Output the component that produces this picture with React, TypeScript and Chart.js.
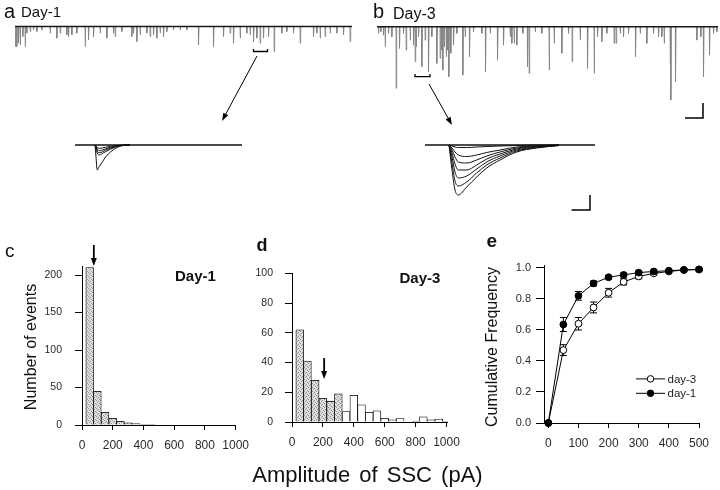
import React, { useEffect, useRef } from "react";
import { Chart, registerables } from "chart.js";

Chart.register(...registerables);

const FONT = "'Liberation Sans', Arial, Helvetica, sans-serif";

// ---------- Panel a / b : continuous recordings (time s, amplitude pA) ----------
const traceATimes = [0, 0.33, 0.67, 1.0, 1.53, 2.0, 2.33, 3.0, 3.67, 4.33, 5.33, 7.0, 8.33, 9.0, 10.33, 10.67, 11.33, 12.33, 14.0, 14.67, 15.67, 17.0, 18.33, 19.67, 20.0, 21.33, 23.33, 23.67, 24.33, 25.0, 26.33, 27.0, 27.67, 28.33, 29.0, 29.67, 30.33, 31.67, 33.0, 34.33, 36.67, 39.67, 41.67, 43.0, 43.67, 45.0, 46.33, 47.0, 47.67, 48.33, 49.0, 49.67, 50.67, 51.8, 53.33, 54.33, 55.67, 57.0, 59.67, 60.33, 61.0, 62.0, 63.0, 64.33, 65.67, 67.0];
const traceAAmps = [100, 100, 83, 92, 50, 100, 33, 25, 17, 25, 17, 33, 58, 33, 42, 50, 42, 33, 100, 67, 50, 33, 58, 33, 50, 25, 50, 33, 75, 42, 33, 50, 42, 58, 33, 50, 25, 17, 17, 17, 92, 100, 50, 33, 83, 58, 33, 42, 75, 58, 83, 58, 50, 125, 33, 25, 33, 83, 50, 33, 58, 50, 33, 33, 42, 75];

const traceBTimes = [0.27, 0.73, 1.27, 1.6, 2.27, 2.93, 3.8, 4.47, 5.27, 5.8, 6.6, 7.27, 7.6, 7.8, 8.27, 8.93, 9.6, 10.27, 10.93, 11.93, 12.6, 12.93, 13.13, 13.4, 13.8, 14.07, 14.33, 14.73, 15.27, 15.93, 17.13, 17.6, 18.47, 19.27, 20.93, 21.67, 22.6, 24.07, 25.27, 26.6, 26.93, 27.4, 27.93, 29.13, 30.07, 30.4, 31.6, 32.93, 34.4, 35.4, 36.93, 38.27, 39.0, 40.6, 42.07, 43.4, 44.07, 44.93, 45.93, 47.4, 47.8, 48.6, 49.27, 50.27, 51.67, 52.6, 53.93, 55.27, 56.27, 56.93, 57.4, 58.6, 58.73, 59.67, 63.93, 64.73, 65.27, 66.47, 67.27, 67.93];
const traceBAmps = [33, 25, 42, 100, 33, 50, 308, 108, 33, 117, 67, 92, 175, 100, 50, 200, 67, 225, 50, 183, 158, 117, 217, 100, 150, 117, 250, 133, 92, 33, 242, 50, 150, 25, 33, 225, 33, 167, 92, 50, 83, 83, 92, 33, 200, 233, 25, 33, 217, 83, 133, 33, 175, 67, 208, 233, 50, 75, 33, 83, 83, 33, 50, 33, 150, 33, 83, 33, 50, 50, 83, 192, 367, 275, 67, 50, 250, 142, 33, 25];

// ---------- Insets: superimposed single events (ms after onset, pA) ----------
const insetATimes = [0, 0.5, 1.1, 2.1, 3.75, 5.4, 7.9, 10.4, 12.9, 17.5];
const insetAWave1 = [0, -12, -25, -21.7, -16.7, -11.7, -6.7, -3.3, -1, 0];
const insetAWave2 = [0, -3, -8, -10, -8.5, -6.5, -4, -2, -0.7, 0];
const insetAWave3 = [0, -2, -6, -7.7, -6.8, -5, -3, -1.5, -0.5, 0];
const insetAWave4 = [0, -1.5, -4, -5.7, -5, -3.8, -2.2, -1, -0.3, 0];
const insetAWave5 = [0, -1, -2.5, -3.3, -3, -2.2, -1.3, -0.6, -0.2, 0];

const insetBTimes = [0, 1.5, 3, 4.65, 8.85, 13.85, 18.85, 25.5, 33.85, 43.85, 55];
const insetBWave1 = [0, -25, -45, -50, -42, -32, -23, -15, -7, -3, -0.5];
const insetBWave2 = [0, -18, -36, -41, -37, -28, -20, -13, -6, -2.5, -0.5];
const insetBWave3 = [0, -12, -27, -33, -31, -24, -17, -11, -5, -2, -0.3];
const insetBWave4 = [0, -8, -19, -25, -25, -20, -14, -9, -4, -1.5, -0.3];
const insetBWave5 = [0, -5, -12, -17, -18, -15, -11, -7, -3, -1, 0];
const insetBWave6 = [0, -3, -7, -10, -11.5, -10, -7.5, -5, -2, -0.8, 0];
const insetBWave7 = [0, -1, -2, -2.5, -2.5, -2, -1.5, -1, -0.5, 0, 0];

// ---------- Panels c / d : amplitude histograms ----------
const binCenters = [50, 100, 150, 200, 250, 300, 350, 400, 450, 500, 550, 600, 650, 700, 750, 800, 850, 900, 950, 1000];
const countsDay1 = [210, 45, 17, 9, 5, 3, 2, 1, 1, 0, 0, 0, 0, 0, 0, 0, 0, 0, 0, 0];
const countsDay3 = [62, 41, 28, 16, 14, 19, 7, 18, 11.5, 6.5, 7.5, 2.5, 1.5, 2.3, 0, 0.6, 3.5, 1.5, 2, 0.5];
const histXTicks = [0, 200, 400, 600, 800, 1000];
const day1YTicks = [0, 50, 100, 150, 200];
const day3YTicks = [0, 20, 40, 60, 80, 100];

// ---------- Panel e : cumulative frequency ----------
const cumX = [0, 50, 100, 150, 200, 250, 300, 350, 400, 450, 500];
const cumDay3 = [0, 0.47, 0.64, 0.745, 0.84, 0.91, 0.945, 0.965, 0.977, 0.987, 0.99];
const cumDay3Err = [0, 0.035, 0.04, 0.035, 0.028, 0.02, 0.015, 0.01, 0.008, 0.006, 0.005];
const cumDay1 = [0, 0.635, 0.82, 0.9, 0.94, 0.955, 0.97, 0.977, 0.982, 0.987, 0.99];
const cumDay1Err = [0, 0.045, 0.028, 0.016, 0.012, 0.012, 0.01, 0.008, 0.006, 0.005, 0.004];
const cumXTicks = [0, 100, 200, 300, 400, 500];
const cumYTicks = [0, 0.2, 0.4, 0.6, 0.8, 1.0];

// ---------------------------------------------------------------------------
const baseOptions: any = {
  animation: false,
  responsive: false,
  maintainAspectRatio: false,
  events: [],
  plugins: { legend: { display: false }, tooltip: { enabled: false } },
};

function bracketPlugin(t1: number, t2: number, yBottom: number, yTop: number) {
  return {
    id: "bracket",
    afterDatasetsDraw(chart: any) {
      const { x, y } = chart.scales;
      const ctx = chart.ctx;
      ctx.save();
      ctx.strokeStyle = "#000";
      ctx.lineWidth = 1.3;
      ctx.beginPath();
      ctx.moveTo(x.getPixelForValue(t1), y.getPixelForValue(yTop));
      ctx.lineTo(x.getPixelForValue(t1), y.getPixelForValue(yBottom));
      ctx.lineTo(x.getPixelForValue(t2), y.getPixelForValue(yBottom));
      ctx.lineTo(x.getPixelForValue(t2), y.getPixelForValue(yTop));
      ctx.stroke();
      ctx.restore();
    },
  };
}

function scaleBarPlugin(tEnd: number, dt: number, yBase: number, dy: number) {
  return {
    id: "scalebar",
    afterDatasetsDraw(chart: any) {
      const { x, y } = chart.scales;
      const ctx = chart.ctx;
      ctx.save();
      ctx.strokeStyle = "#000";
      ctx.lineWidth = 1.5;
      ctx.beginPath();
      ctx.moveTo(x.getPixelForValue(tEnd - dt), y.getPixelForValue(yBase));
      ctx.lineTo(x.getPixelForValue(tEnd), y.getPixelForValue(yBase));
      ctx.lineTo(x.getPixelForValue(tEnd), y.getPixelForValue(yBase + dy));
      ctx.stroke();
      ctx.restore();
    },
  };
}

function traceConfig(times: number[], amps: number[], tMax: number, yMin: number, yMax: number, extra: any[]) {
  const spikes: any[] = [];
  times.forEach((t, i) => {
    spikes.push({ x: t, y: 0 }, { x: t + 0.03, y: -amps[i] }, { x: t + 0.14, y: 0 }, { x: t + 0.15, y: null });
  });
  return {
    type: "line",
    data: {
      datasets: [
        { data: [{ x: 0, y: 0 }, { x: tMax, y: 0 }], borderColor: "#1a1a1a", borderWidth: 1.4, pointRadius: 0, clip: false },
        { data: spikes, borderColor: "#858585", borderWidth: 0.9, pointRadius: 0, spanGaps: false, clip: false },
      ],
    },
    options: {
      ...baseOptions,
      layout: { padding: 0 },
      scales: {
        x: { type: "linear", display: false, min: 0, max: tMax },
        y: { type: "linear", display: false, min: yMin, max: yMax },
      },
    },
    plugins: extra,
  };
}

function insetConfig(times: number[], waves: number[][], onset: number, tMax: number, yMin: number, yMax: number, extra: any[]) {
  const ds: any[] = [
    { data: [{ x: 0, y: 0 }, { x: tMax, y: 0 }], borderColor: "#111", borderWidth: 1.3, pointRadius: 0, clip: false },
  ];
  waves.forEach((w) => {
    ds.push({
      data: times.map((t, i) => ({ x: onset + t, y: w[i] })),
      borderColor: "#111",
      borderWidth: 1,
      pointRadius: 0,
      cubicInterpolationMode: "monotone",
      clip: false,
    });
  });
  return {
    type: "line",
    data: { datasets: ds },
    options: {
      ...baseOptions,
      layout: { padding: 0 },
      scales: {
        x: { type: "linear", display: false, min: 0, max: tMax },
        y: { type: "linear", display: false, min: yMin, max: yMax },
      },
    },
    plugins: extra,
  };
}

function makeStipple(canvas: HTMLCanvasElement) {
  const p = document.createElement("canvas");
  p.width = 4;
  p.height = 4;
  const g = p.getContext("2d")!;
  g.fillStyle = "#e0e0e0";
  g.fillRect(0, 0, 4, 4);
  g.fillStyle = "#909090";
  [[0, 0], [2, 1], [1, 2], [3, 3]].forEach(([px, py]) => g.fillRect(px, py, 1, 1));
  return canvas.getContext("2d")!.createPattern(p, "repeat");
}

function histArrowPlugin(ax: number, from: number, to: number) {
  return {
    id: "histarrow",
    afterDatasetsDraw(chart: any) {
      const { x, y } = chart.scales;
      const ctx = chart.ctx;
      const px = x.getPixelForValue(ax);
      const y0 = y.getPixelForValue(from);
      const y1 = y.getPixelForValue(to);
      ctx.save();
      ctx.strokeStyle = "#000";
      ctx.fillStyle = "#000";
      ctx.lineWidth = 1.8;
      ctx.beginPath();
      ctx.moveTo(px, y0);
      ctx.lineTo(px, y1 - 6);
      ctx.stroke();
      ctx.beginPath();
      ctx.moveTo(px - 3, y1 - 8);
      ctx.lineTo(px + 3, y1 - 8);
      ctx.lineTo(px, y1);
      ctx.closePath();
      ctx.fill();
      ctx.restore();
    },
  };
}

function axisCommon(tickLen: number, pad: number, size: number) {
  return {
    grid: { display: true, offset: false, drawOnChartArea: false, drawTicks: true, tickLength: tickLen, color: "#000", lineWidth: 1 },
    border: { display: true, color: "#000", width: 1 },
    ticks: { padding: pad, color: "#2a2a2a", font: { family: FONT, size }, maxRotation: 0, minRotation: 0, autoSkip: false, callback: (v: any) => String(v) },
  };
}

function histConfig(canvas: HTMLCanvasElement, counts: number[], stippledN: number, yMax: number, yTicks: number[], xMax: number, axisW: number, topPad: number, yPad: number, xPad: number, arrow: number[]) {
  const pattern = makeStipple(canvas);
  return {
    type: "bar",
    data: {
      datasets: [
        {
          data: binCenters.map((x, i) => ({ x, y: counts[i] })),
          backgroundColor: counts.map((_, i) => (i < stippledN ? pattern : "#ffffff")),
          borderColor: "#000",
          borderWidth: 0.8,
          barPercentage: 1,
          categoryPercentage: 1,
          grouped: false,
        },
      ],
    },
    options: {
      ...baseOptions,
      layout: { padding: { top: topPad, right: 20, left: 0, bottom: 0 } },
      scales: {
        x: {
          type: "linear",
          min: 0,
          max: xMax,
          offset: false,
          ...axisCommon(5, xPad, 12),
          afterBuildTicks: (s: any) => { s.ticks = histXTicks.map((v) => ({ value: v })); },
          afterFit: (s: any) => { s.height = 25; },
        },
        y: {
          type: "linear",
          min: 0,
          max: yMax,
          ...axisCommon(7, yPad, 10.5),
          afterBuildTicks: (s: any) => { s.ticks = yTicks.map((v) => ({ value: v })); },
          afterFit: (s: any) => { s.width = axisW; },
        },
      },
    },
    plugins: [histArrowPlugin(arrow[0], arrow[1], arrow[2])],
  };
}

function cumConfig() {
  const errPlugin = {
    id: "errbars",
    beforeDatasetsDraw(chart: any) {
      const { x, y } = chart.scales;
      const ctx = chart.ctx;
      ctx.save();
      ctx.strokeStyle = "#000";
      ctx.lineWidth = 1;
      const series: [number[], number[]][] = [[cumDay3, cumDay3Err], [cumDay1, cumDay1Err]];
      series.forEach(([vals, errs]) => {
        cumX.forEach((xv, i) => {
          if (!errs[i]) return;
          const px = x.getPixelForValue(xv);
          const yt = y.getPixelForValue(vals[i] + errs[i]);
          const yb = y.getPixelForValue(vals[i] - errs[i]);
          ctx.beginPath();
          ctx.moveTo(px, yt);
          ctx.lineTo(px, yb);
          ctx.moveTo(px - 3.5, yt);
          ctx.lineTo(px + 3.5, yt);
          ctx.moveTo(px - 3.5, yb);
          ctx.lineTo(px + 3.5, yb);
          ctx.stroke();
        });
      });
      ctx.restore();
    },
  };
  const legendPlugin = {
    id: "cumlegend",
    afterDraw(chart: any) {
      const ca = chart.chartArea;
      const ctx = chart.ctx;
      const entries = [
        { label: "day-3", fill: "#fff", dy: 113.3 },
        { label: "day-1", fill: "#000", dy: 127.7 },
      ];
      ctx.save();
      entries.forEach((e) => {
        const y = ca.top + e.dy;
        const x0 = ca.left + 92;
        ctx.strokeStyle = "#000";
        ctx.lineWidth = 1;
        ctx.beginPath();
        ctx.moveTo(x0, y);
        ctx.lineTo(x0 + 29, y);
        ctx.stroke();
        ctx.beginPath();
        ctx.arc(x0 + 14.5, y, 3.3, 0, Math.PI * 2);
        ctx.fillStyle = e.fill;
        ctx.fill();
        ctx.stroke();
        ctx.fillStyle = "#222";
        ctx.font = `11.5px ${FONT}`;
        ctx.textBaseline = "middle";
        ctx.textAlign = "left";
        ctx.fillText(e.label, x0 + 31.5, y + 0.5);
      });
      ctx.restore();
    },
  };
  return {
    type: "line",
    data: {
      datasets: [
        {
          label: "day-1",
          data: cumX.map((x, i) => ({ x, y: cumDay1[i] })),
          borderColor: "#000",
          borderWidth: 1,
          pointRadius: 3.4,
          pointBackgroundColor: "#000",
          pointBorderColor: "#000",
          pointBorderWidth: 1,
          clip: false,
        },
        {
          label: "day-3",
          data: cumX.map((x, i) => ({ x, y: cumDay3[i] })),
          borderColor: "#000",
          borderWidth: 1,
          pointRadius: 3.4,
          pointBackgroundColor: "#fff",
          pointBorderColor: "#000",
          pointBorderWidth: 1,
          clip: false,
        },
      ],
    },
    options: {
      ...baseOptions,
      layout: { padding: { top: 10, right: 20, left: 0, bottom: 0 } },
      scales: {
        x: {
          type: "linear",
          min: -14.3,
          max: 500,
          ...axisCommon(5, 8, 12),
          afterBuildTicks: (s: any) => { s.ticks = cumXTicks.map((v) => ({ value: v })); },
          afterFit: (s: any) => { s.height = 25; },
        },
        y: {
          type: "linear",
          min: 0,
          max: 1.015,
          ...axisCommon(8, 5, 11),
          ticks: { ...axisCommon(8, 5, 11).ticks, callback: (v: any) => Number(v).toFixed(1) },
          afterBuildTicks: (s: any) => { s.ticks = cumYTicks.map((v) => ({ value: v })); },
          afterFit: (s: any) => { s.width = 39; },
        },
      },
    },
    plugins: [errPlugin, legendPlugin],
  };
}

function ChartCanvas({ l, t, w, h, make }: { l: number; t: number; w: number; h: number; make: (c: HTMLCanvasElement) => any }) {
  const ref = useRef<HTMLCanvasElement>(null);
  useEffect(() => {
    const canvas = ref.current!;
    const chart = new Chart(canvas, make(canvas));
    return () => chart.destroy();
  }, []);
  return <canvas ref={ref} width={w} height={h} style={{ position: "absolute", left: l, top: t, width: w, height: h, display: "block" }} />;
}

function Label({ text, l, t, size, bold }: { text: string; l: number; t: number; size: number; bold?: boolean }) {
  return (
    <div style={{ position: "absolute", left: l, top: t, fontSize: size, lineHeight: 1, fontWeight: bold ? 700 : 400, whiteSpace: "nowrap", color: "#111" }}>
      {text}
    </div>
  );
}

function VLabel({ text, cx, cy, size }: { text: string; cx: number; cy: number; size: number }) {
  return (
    <div style={{ position: "absolute", left: cx - 100, top: cy - size / 2, width: 200, height: size, lineHeight: 1, fontSize: size, textAlign: "center", transform: "rotate(-90deg)", transformOrigin: "50% 50%", whiteSpace: "nowrap", color: "#111" }}>
      {text}
    </div>
  );
}

function arrowPath(x1: number, y1: number, x2: number, y2: number) {
  const dx = x2 - x1, dy = y2 - y1;
  const len = Math.hypot(dx, dy);
  const ux = dx / len, uy = dy / len;
  const bx = x2 - ux * 8, by = y2 - uy * 8;
  const nx = -uy, ny = ux;
  return {
    line: `M${x1},${y1} L${bx},${by}`,
    head: `M${x2},${y2} L${bx + nx * 2.8},${by + ny * 2.8} L${bx - nx * 2.8},${by - ny * 2.8} Z`,
  };
}

export default function App() {
  const arrA = arrowPath(257, 56, 222, 121);
  const arrB = arrowPath(429, 84, 452, 125);
  return (
    <div style={{ position: "fixed", left: 0, top: 0, width: 720, height: 490, background: "#fff", overflow: "hidden", fontFamily: FONT }}>
      {/* panel a */}
      <ChartCanvas l={15} t={20} w={337} h={40} make={() => traceConfig(traceATimes, traceAAmps, 67.4, -167.5, 32.5, [bracketPlugin(47.7, 50.5, -125, -112)])} />
      <ChartCanvas l={75} t={133} w={167} h={47} make={() => insetConfig(insetATimes, [insetAWave1, insetAWave2, insetAWave3, insetAWave4, insetAWave5], 10, 83.5, -35, 12, [])} />
      {/* panel b */}
      <ChartCanvas l={377} t={20} w={341} h={102} make={() => traceConfig(traceBTimes, traceBAmps, 68.2, -476.5, 33.5, [bracketPlugin(7.6, 10.6, -250, -237), scaleBarPlugin(65.2, 3.6, -456.5, 75)])} />
      <ChartCanvas l={425} t={133} w={170} h={82} make={() => insetConfig(insetBTimes, [insetBWave1, insetBWave2, insetBWave3, insetBWave4, insetBWave5, insetBWave6, insetBWave7], 12, 85, -70, 12, [scaleBarPlugin(82.5, 9.2, -65, 15)])} />
      {/* panel c */}
      <ChartCanvas l={40} t={240} w={217} h={210} make={(c) => histConfig(c, countsDay1, 6, 212, day1YTicks, 1000, 42, 26, 13, 8, [77, 240, 212])} />
      {/* panel d */}
      <ChartCanvas l={252} t={255} w={216} h={192} make={(c) => histConfig(c, countsDay3, 6, 100, day3YTicks, 1006.5, 40, 10, 12, 8, [208, 43, 29])} />
      {/* panel e */}
      <ChartCanvas l={505} t={254} w={214} h={194} make={() => cumConfig()} />

      <svg width={720} height={490} style={{ position: "absolute", left: 0, top: 0, pointerEvents: "none" }}>
        <path d={arrA.line} stroke="#000" strokeWidth={1} fill="none" />
        <path d={arrA.head} fill="#000" />
        <path d={arrB.line} stroke="#000" strokeWidth={1} fill="none" />
        <path d={arrB.head} fill="#000" />
      </svg>

      <Label text="a" l={4} t={1.4} size={20} />
      <Label text="Day-1" l={21} t={4} size={15} />
      <Label text="b" l={373} t={1.4} size={20} />
      <Label text="Day-3" l={393} t={5.5} size={16} />
      <Label text="c" l={5} t={240.6} size={19} />
      <Label text="d" l={256.5} t={235.8} size={18} bold />
      <Label text="e" l={486.5} t={230.6} size={19} bold />
      <Label text="Day-1" l={175} t={268} size={15} bold />
      <Label text="Day-3" l={399.5} t={269.6} size={15} bold />
      <VLabel text="Number of events" cx={31} cy={347} size={16} />
      <VLabel text="Cumulative Frequency" cx={492} cy={347} size={16} />
      <div style={{ position: "absolute", left: 167.5, width: 400, top: 464, fontSize: 22, lineHeight: 1, textAlign: "center", whiteSpace: "nowrap", color: "#111", wordSpacing: 3 }}>
        Amplitude of SSC (pA)
      </div>
    </div>
  );
}
